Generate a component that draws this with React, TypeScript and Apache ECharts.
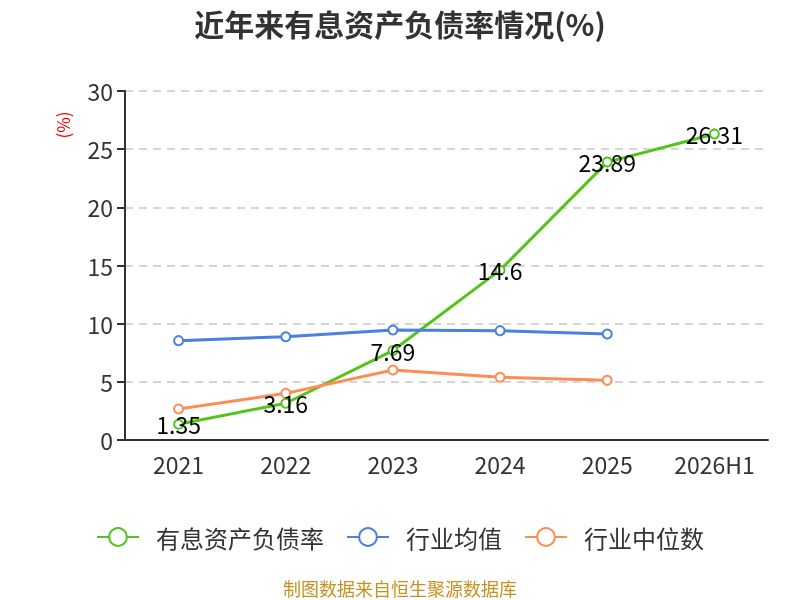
import { useEffect, useRef } from 'react'
import * as echarts from 'echarts'

const years = ['2021', '2022', '2023', '2024', '2025', '2026H1']
const debtRatio = [1.35, 3.16, 7.69, 14.6, 23.89, 26.31]
const industryAvg = [8.54, 8.88, 9.46, 9.4, 9.11]
const industryMedian = [2.67, 4.01, 6.02, 5.39, 5.13]

const FONT = '"Noto Sans CJK SC", "Noto Sans", sans-serif'

export default function App() {
  const ref = useRef<HTMLDivElement>(null)

  useEffect(() => {
    if (!ref.current) return
    const chart = echarts.init(ref.current, undefined, { renderer: 'svg' })

    const lineSeries = (name: string, data: number[], color: string, label: boolean) => ({
      name,
      type: 'line' as const,
      data,
      symbol: 'emptyCircle',
      symbolSize: 9,
      lineStyle: { color, width: 3 },
      itemStyle: { color, borderWidth: 2 },
      label: {
        show: label,
        position: 'inside' as const,
        color: '#000',
        fontSize: 23,
        fontFamily: FONT,
      },
    })

    chart.setOption({
      animation: false,
      textStyle: { fontFamily: FONT },
      title: {
        text: '近年来有息资产负债率情况(%)',
        left: 'center',
        top: 3,
        textStyle: { fontSize: 30, fontWeight: 'bold', color: '#333', fontFamily: FONT },
      },
      grid: { left: 125, right: 32, top: 91, bottom: 160 },
      legend: {
        bottom: 46,
        left: 'center',
        itemWidth: 42,
        itemHeight: 22,
        itemGap: 22,
        textStyle: { fontSize: 24, color: '#333', fontFamily: FONT, padding: [0, 0, 0, 12] },
        data: ['有息资产负债率', '行业均值', '行业中位数'],
      },
      xAxis: {
        type: 'category',
        data: years,
        boundaryGap: true,
        axisLine: { lineStyle: { color: '#333', width: 2 } },
        axisTick: { lineStyle: { color: '#333', width: 2 }, length: 8 },
        axisLabel: { fontSize: 23, color: '#333', margin: 12, fontFamily: FONT },
      },
      yAxis: {
        type: 'value',
        min: 0,
        max: 30,
        interval: 5,
        axisLine: { show: true, lineStyle: { color: '#333', width: 2 } },
        axisTick: { show: true, lineStyle: { color: '#333', width: 2 }, length: 8 },
        axisLabel: { fontSize: 23, color: '#333', margin: 12, fontFamily: FONT },
        splitLine: { lineStyle: { color: '#c8c8c8', type: [8, 6], width: 1.5 } },
      },
      graphic: [
        {
          type: 'text',
          x: 62,
          y: 125,
          rotation: Math.PI / 2,
          style: {
            text: '(%)',
            fill: '#e00',
            fontSize: 17,
            fontFamily: FONT,
            align: 'center',
            verticalAlign: 'middle',
          },
        },
        {
          type: 'text',
          left: 'center',
          top: 579,
          style: {
            text: '制图数据来自恒生聚源数据库',
            fill: '#c8911e',
            fontSize: 18,
            fontFamily: FONT,
          },
        },
      ],
      series: [
        lineSeries('有息资产负债率', debtRatio, '#52c41a', true),
        lineSeries('行业均值', industryAvg, '#4a80e0', false),
        lineSeries('行业中位数', industryMedian, '#ff8c55', false),
      ],
    })

    return () => chart.dispose()
  }, [])

  return <div ref={ref} style={{ position: 'fixed', left: 0, top: 0, width: 800, height: 600 }} />
}
